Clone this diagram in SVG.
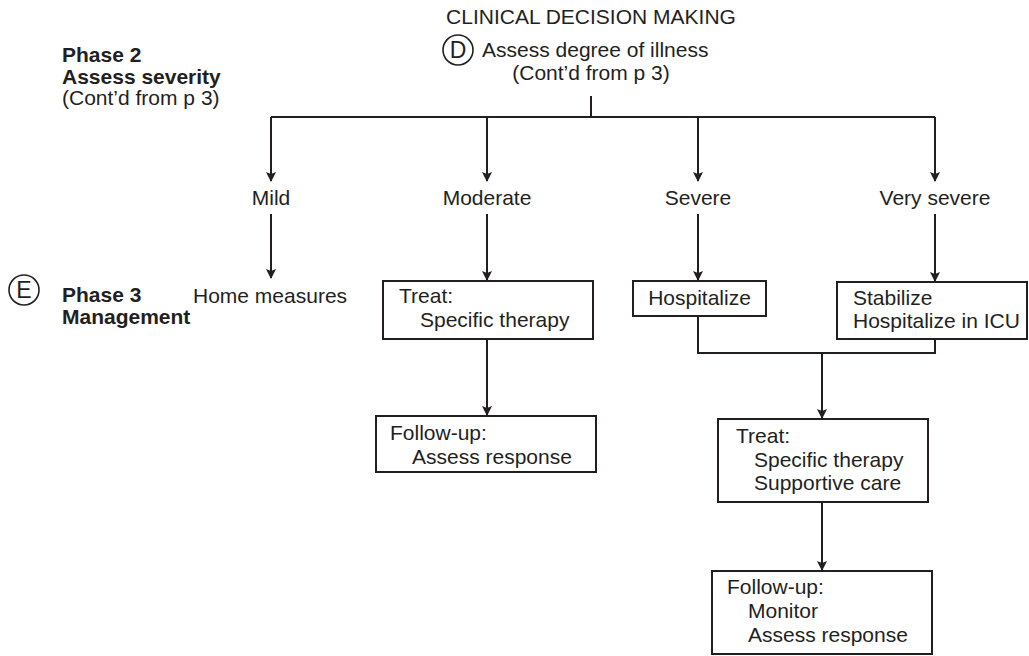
<svg xmlns="http://www.w3.org/2000/svg" width="1029" height="656" viewBox="0 0 1029 656">
  <style>
    text { font-family: "Liberation Sans", Arial, sans-serif; font-size: 21px; fill: #231f20; }
    .b { font-weight: bold; }
    .tag { font-size: 23px; }
    .box { fill: #ffffff; stroke: #231f20; stroke-width: 2; }
    .ring { fill: none; stroke: #231f20; stroke-width: 1.6; }
    .wire { fill: none; stroke: #231f20; stroke-width: 2; }
    .arrow { fill: none; stroke: #231f20; stroke-width: 2; marker-end: url(#head); }
  </style>
  <defs>
    <marker id="head" viewBox="0 0 10 14" refX="9" refY="7" markerWidth="10" markerHeight="14" markerUnits="userSpaceOnUse" orient="auto">
      <path d="M0,2 L10,7 L0,12 L2,7 Z" fill="#231f20"/>
    </marker>
  </defs>

  <rect width="1029" height="656" fill="#ffffff"/>

  <!-- headings -->
  <g id="title">
    <text x="591" y="24" text-anchor="middle">CLINICAL DECISION MAKING</text>
  </g>
  <g id="phase2">
    <text class="b" x="62" y="62">Phase 2</text>
    <text class="b" x="62" y="84">Assess severity</text>
    <text x="62" y="105">(Cont’d from p 3)</text>
  </g>
  <g id="phase3">
    <circle class="ring" cx="24" cy="290" r="15"/>
    <text class="tag" x="24" y="298" text-anchor="middle">E</text>
    <text class="b" x="62" y="302">Phase 3</text>
    <text class="b" x="62" y="324">Management</text>
  </g>

  <!-- step D -->
  <g id="assess">
    <circle class="ring" cx="458" cy="50" r="15"/>
    <text class="tag" x="458" y="58" text-anchor="middle">D</text>
    <text x="482" y="57">Assess degree of illness</text>
    <text x="591" y="80" text-anchor="middle">(Cont’d from p 3)</text>
  </g>

  <!-- severity levels -->
  <g id="mild"><text x="271" y="205" text-anchor="middle">Mild</text></g>
  <g id="moderate"><text x="487" y="205" text-anchor="middle">Moderate</text></g>
  <g id="severe"><text x="698" y="205" text-anchor="middle">Severe</text></g>
  <g id="very-severe"><text x="935" y="205" text-anchor="middle">Very severe</text></g>

  <!-- management -->
  <g id="home"><text x="193" y="303">Home measures</text></g>

  <g id="treat-moderate">
    <rect class="box" x="383" y="281" width="210" height="58"/>
    <text x="399" y="303">Treat:</text>
    <text x="420" y="327">Specific therapy</text>
  </g>
  <g id="followup-moderate">
    <rect class="box" x="376" y="416" width="220" height="56"/>
    <text x="390" y="440">Follow-up:</text>
    <text x="412" y="464">Assess response</text>
  </g>

  <g id="hospitalize">
    <rect class="box" x="633" y="281" width="133" height="35"/>
    <text x="699.5" y="305" text-anchor="middle">Hospitalize</text>
  </g>
  <g id="icu">
    <rect class="box" x="837" y="282" width="190" height="57"/>
    <text x="853" y="305">Stabilize</text>
    <text x="853" y="328">Hospitalize in ICU</text>
  </g>

  <g id="treat-severe">
    <rect class="box" x="718" y="419" width="210" height="83"/>
    <text x="736" y="443">Treat:</text>
    <text x="754" y="467">Specific therapy</text>
    <text x="754" y="490">Supportive care</text>
  </g>
  <g id="followup-severe">
    <rect class="box" x="712" y="571" width="220" height="83"/>
    <text x="727" y="594">Follow-up:</text>
    <text x="748" y="618">Monitor</text>
    <text x="748" y="642">Assess response</text>
  </g>

  <!-- connectors -->
  <g id="connectors">
    <path class="wire" d="M591,96 V117 M271,117 H935"/>
    <path class="arrow" d="M271,117 V181"/>
    <path class="arrow" d="M487,117 V181"/>
    <path class="arrow" d="M698,117 V181"/>
    <path class="arrow" d="M935,117 V181"/>

    <path class="arrow" d="M271,214 V278"/>
    <path class="arrow" d="M487,214 V280"/>
    <path class="arrow" d="M698,214 V280"/>
    <path class="arrow" d="M935,214 V281"/>

    <path class="arrow" d="M487,339 V415"/>

    <path class="wire" d="M698,316 V353 H935 V339"/>
    <path class="arrow" d="M822,353 V418"/>
    <path class="arrow" d="M822,502 V570"/>
  </g>
</svg>
